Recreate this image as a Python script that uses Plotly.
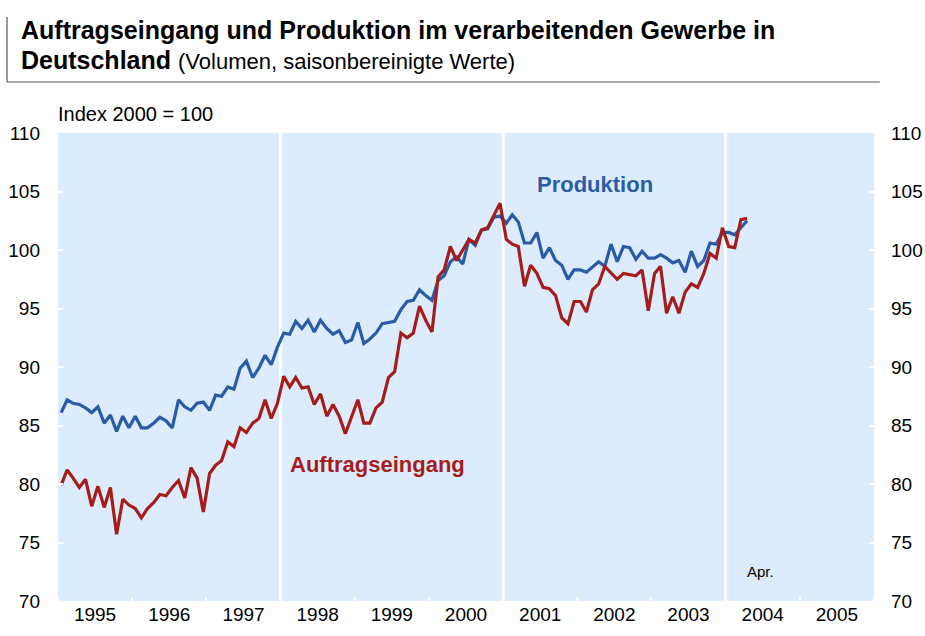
import plotly.graph_objects as go
import pandas as pd

# Monthly data, Jan 1995 - Apr 2004 (Index 2000 = 100)
months = pd.date_range("1995-01-01", "2004-04-01", freq="MS").strftime("%Y-%m-%d").tolist()

produktion = [
    86.1, 87.2, 86.9, 86.8, 86.5, 86.1, 86.6, 85.2, 85.9, 84.5, 85.8, 84.8,   # 1995
    85.8, 84.8, 84.8, 85.2, 85.7, 85.4, 84.8, 87.2, 86.6, 86.3, 86.9, 87.0,   # 1996
    86.3, 87.6, 87.5, 88.3, 88.1, 89.9, 90.5, 89.1, 89.9, 91.0, 90.2, 91.7,   # 1997
    92.9, 92.8, 93.9, 93.3, 94.0, 93.0, 94.0, 93.3, 92.8, 93.1, 92.1, 92.3,   # 1998
    93.8, 92.0, 92.4, 92.9, 93.7, 93.8, 93.9, 94.9, 95.6, 95.7, 96.6, 96.1,   # 1999
    95.7, 97.4, 97.8, 99.0, 99.4, 98.8, 100.9, 100.4, 101.7, 101.8, 102.8, 102.9,  # 2000
    102.3, 103.0, 102.4, 100.6, 100.6, 101.5, 99.3, 100.2, 99.1, 98.7, 97.5, 98.3,  # 2001
    98.3, 98.1, 98.5, 99.0, 98.6, 100.5, 99.0, 100.3, 100.2, 99.2, 99.9, 99.3,  # 2002
    99.3, 99.6, 99.3, 98.9, 99.1, 98.1, 99.9, 98.6, 99.1, 100.6, 100.5, 101.5,  # 2003
    101.5, 101.3, 101.9, 102.5,                                                # 2004
]

auftragseingang = [
    79.9, 81.2, 80.5, 79.7, 80.4, 78.1, 79.8, 78.0, 79.7, 75.7, 78.7, 78.2,   # 1995
    77.9, 77.1, 77.9, 78.4, 79.1, 79.0, 79.7, 80.3, 78.8, 81.4, 80.5, 77.6,   # 1996
    80.9, 81.6, 82.0, 83.6, 83.2, 84.8, 84.4, 85.2, 85.6, 87.2, 85.6, 86.9,   # 1997
    89.2, 88.3, 89.1, 88.2, 88.3, 86.8, 87.7, 85.8, 86.8, 85.8, 84.3, 85.8,   # 1998
    87.2, 85.2, 85.2, 86.5, 87.0, 89.1, 89.6, 92.9, 92.5, 92.9, 95.2, 94.0,   # 1999
    93.0, 97.7, 98.3, 100.3, 99.1, 100.0, 100.9, 100.6, 101.7, 101.9, 102.9, 104.0,  # 2000
    100.9, 100.5, 100.3, 96.9, 98.7, 98.0, 96.8, 96.7, 96.1, 94.2, 93.7, 95.6,  # 2001
    95.6, 94.7, 96.6, 97.1, 98.6, 98.0, 97.5, 98.0, 97.9, 97.8, 98.3, 94.8,   # 2002
    98.0, 98.6, 94.6, 96.0, 94.6, 96.4, 97.1, 96.8, 98.0, 99.7, 99.3, 101.9,  # 2003
    100.3, 100.2, 102.6, 102.7,                                                # 2004
]

y_ticks = [70, 75, 80, 85, 90, 95, 100, 105, 110]
separator_years = ["1998-01-01", "2001-01-01", "2004-01-01"]

BLUE = "#2b5ba6"
RED = "#a51d1a"
BG = "#ddecfd"
FONT = "Liberation Sans, Arial, sans-serif"

fig = go.Figure()
fig.add_trace(go.Scatter(
    x=months, y=produktion, mode="lines", name="Produktion",
    xperiod="M1", xperiodalignment="middle",
    line=dict(color=BLUE, width=3.2), hoverinfo="skip", showlegend=False,
))
fig.add_trace(go.Scatter(
    x=months, y=auftragseingang, mode="lines", name="Auftragseingang",
    xperiod="M1", xperiodalignment="middle",
    line=dict(color=RED, width=3.2), hoverinfo="skip", showlegend=False,
))
# invisible trace to activate the right-hand axis
fig.add_trace(go.Scatter(
    x=months, y=produktion, yaxis="y2", mode="lines", opacity=0,
    line=dict(width=0), hoverinfo="skip", showlegend=False,
))

for d in separator_years:
    fig.add_shape(type="line", xref="x", yref="paper", x0=d, x1=d, y0=0, y1=1,
                  line=dict(color="white", width=3), layer="below")

# title frame lines
fig.add_shape(type="line", xref="paper", yref="paper", x0=-0.0625, x1=-0.0625,
              y0=1.109, y1=1.248, line=dict(color="#555555", width=1.2))
fig.add_shape(type="line", xref="paper", yref="paper", x0=-0.0625, x1=1.007,
              y0=1.109, y1=1.109, line=dict(color="#555555", width=1.2))

yaxis_common = dict(
    range=[70, 110], tickvals=y_ticks, ticks="inside", tickcolor="white",
    ticklen=5, tickwidth=2, showgrid=False, zeroline=False, showline=False,
    tickfont=dict(family=FONT, size=19, color="black"), fixedrange=True,
    automargin=False,
)

fig.update_layout(
    width=925, height=636,
    margin=dict(l=58, r=51, t=133, b=35),
    paper_bgcolor="white", plot_bgcolor=BG,
    font=dict(family=FONT, color="black"),
    xaxis=dict(
        type="date", range=["1995-01-01", "2006-01-01"],
        tick0="1995-01-01", dtick="M12", tickformat="%Y",
        ticklabelmode="period", ticks="inside", tickcolor="white",
        ticklen=4, tickwidth=2, showgrid=False, zeroline=False, showline=False,
        tickfont=dict(family=FONT, size=19, color="black"), automargin=False,
        fixedrange=True,
    ),
    yaxis=dict(side="left", ticklabelstandoff=17, **yaxis_common),
    yaxis2=dict(side="right", overlaying="y", ticklabelstandoff=16, **yaxis_common),
    annotations=[
        dict(xref="paper", yref="paper", x=-0.0478, y=1.220, xanchor="left", yanchor="middle",
             text="<b>Auftragseingang und Produktion im verarbeitenden Gewerbe in</b>",
             showarrow=False, font=dict(family=FONT, size=25, color="black")),
        dict(xref="paper", yref="paper", x=-0.0478, y=1.157, xanchor="left", yanchor="middle",
             text="<b>Deutschland</b> <span style='font-size:22px'>(Volumen, saisonbereinigte Werte)</span>",
             showarrow=False, font=dict(family=FONT, size=25, color="black")),
        dict(xref="paper", yref="paper", x=-0.002, y=1.040, xanchor="left", yanchor="middle",
             text="Index 2000 = 100", showarrow=False,
             font=dict(family=FONT, size=20, color="black")),
        dict(xref="x", yref="y", x="2002-03-28", y=105.6, text="<b>Produktion</b>",
             showarrow=False, font=dict(family=FONT, size=22, color=BLUE)),
        dict(xref="x", yref="y", x="1999-04-22", y=81.7, text="<b>Auftragseingang</b>",
             showarrow=False, font=dict(family=FONT, size=22, color=RED)),
        dict(xref="x", yref="y", x="2004-06-20", y=72.5, text="Apr.",
             showarrow=False, font=dict(family=FONT, size=15, color="black")),
    ],
)

# remove the browser's default 8px body margin so the figure fills the window exactly
fig.write_html(
    "out.html",
    config={"displayModeBar": False, "staticPlot": True},
    post_script="document.body.style.margin='0';document.body.style.overflow='hidden';",
)
